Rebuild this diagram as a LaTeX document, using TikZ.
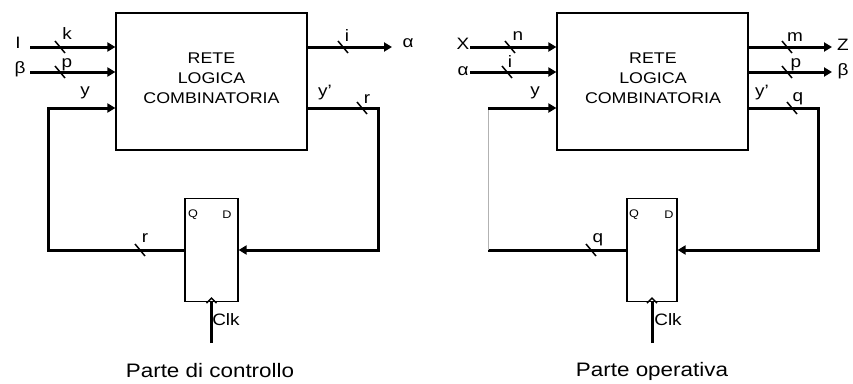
\documentclass[tikz,border=0pt]{standalone}
\usepackage{fontspec}
\setmainfont{Liberation Sans}[FakeStretch=1.15]
\usetikzlibrary{arrows.meta}
\begin{document}
\begin{tikzpicture}[x=1pt,y=-1pt,
  wire/.style={line width=3pt},
  arr/.style={wire,-{Triangle[length=8pt,width=9pt]}},
  box/.style={draw,line width=1.2pt,inner sep=0pt},
  lbl/.style={font=\fontsize{16.5}{18}\selectfont,inner sep=0pt},
  small/.style={font=\fontsize{11}{13}\selectfont,inner sep=0pt},
  title/.style={font=\fontsize{15.5}{20}\selectfont,align=center,inner sep=0pt},
  caption/.style={font=\fontsize{19.5}{22}\selectfont,inner sep=0pt},
  tick/.style={line width=1.5pt},
  faint/.style={line width=0.8pt,draw=black!30}
]
\useasboundingbox (0,0) rectangle (853,383);

% ---------------- Parte di controllo ----------------
\node[box,minimum width=191pt,minimum height=137pt] (rlc1) at (211.5,81.5) {};
\node[title] (t1) at (211.5,78) {RETE\\LOGICA\\COMBINATORIA};
\node[box,minimum width=53pt,minimum height=103pt] (ff1) at (211.5,250) {};
\node[small] (q1) at (193,215) {Q};
\node[small] (d1) at (227,215) {D};

\coordinate (in1) at (30,47);
\coordinate (in2) at (30,72);
\coordinate (ym1) at (48,108);
\coordinate (cl1) at (48,250);
\coordinate (out1) at (392,47);
\coordinate (cr1) at (378,108);
\coordinate (clk1) at (211.5,343);

\draw[arr] (in1) -- (rlc1.west |- in1);
\draw[arr] (in2) -- (rlc1.west |- in2);
\draw[arr] (ff1.west) -- (cl1) -- (ym1) -- (rlc1.west |- ym1);
\draw[arr] (rlc1.east |- out1) -- (out1);
\draw[arr] (rlc1.east |- cr1) -- (cr1) |- (ff1.east);
\draw[wire] (clk1) -- (ff1.south);
\draw[tick] ([shift={(-5,1)}]ff1.south) -- ([shift={(0,-4)}]ff1.south) -- ([shift={(5,1)}]ff1.south);

\draw[tick] (55,41) -- (65,53);
\draw[tick] (55,66) -- (65,78);
\draw[tick] (338,41) -- (348,53);
\draw[tick] (357,102) -- (367,114);
\draw[tick] (135,244) -- (145,256);

\node[lbl] (lI) at (18,43) {I};
\node[lbl] (lb1) at (20,69) {β};
\node[lbl] (lk) at (67,34) {k};
\node[lbl] (lp1) at (67,65) {p};
\node[lbl] (ly1) at (85,93) {y};
\node[lbl] (li1) at (347,36) {i};
\node[lbl] (la1) at (408,43) {α};
\node[lbl] (lyp1) at (325,93) {y’};
\node[lbl] (lr1) at (367,99) {r};
\node[lbl] (lr2) at (145,238) {r};
\node[lbl] (lclk1) at (226,320) {Clk};
\node[caption] (c1) at (210,371) {Parte di controllo};

% ---------------- Parte operativa ----------------
\node[box,minimum width=191pt,minimum height=137pt] (rlc2) at (652.5,81.5) {};
\node[title] (t2) at (653,78) {RETE\\LOGICA\\COMBINATORIA};
\node[box,minimum width=50pt,minimum height=103pt] (ff2) at (652,250) {};
\node[small] (q2) at (634,215) {Q};
\node[small] (d2) at (669,215) {D};

\coordinate (in3) at (470,47);
\coordinate (in4) at (470,72);
\coordinate (ym2) at (488,108);
\coordinate (cl2) at (488,250);
\coordinate (out2) at (832,47);
\coordinate (out3) at (832,72);
\coordinate (cr2) at (818,108);
\coordinate (clk2) at (652,343);

\draw[arr] (in3) -- (rlc2.west |- in3);
\draw[arr] (in4) -- (rlc2.west |- in4);
\draw[wire] (ff2.west) -- (cl2);
\draw[faint] (cl2) -- (ym2);
\draw[arr] (ym2) -- (rlc2.west |- ym2);
\draw[arr] (rlc2.east |- out2) -- (out2);
\draw[arr] (rlc2.east |- out3) -- (out3);
\draw[arr] (rlc2.east |- cr2) -- (cr2) |- (ff2.east);
\draw[wire] (clk2) -- (ff2.south);
\draw[tick] ([shift={(-5,1)}]ff2.south) -- ([shift={(0,-4)}]ff2.south) -- ([shift={(5,1)}]ff2.south);

\draw[tick] (505,41) -- (515,53);
\draw[tick] (502,66) -- (512,78);
\draw[tick] (782,41) -- (792,53);
\draw[tick] (782,66) -- (792,78);
\draw[tick] (787,102) -- (797,114);
\draw[tick] (586,244) -- (596,256);

\node[lbl] (lX) at (463,44) {X};
\node[lbl] (la2) at (463,71.5) {α};
\node[lbl] (ln) at (518,36.5) {n};
\node[lbl] (li2) at (510,62) {i};
\node[lbl] (ly2) at (535,93) {y};
\node[lbl] (lm) at (795,37.5) {m};
\node[lbl] (lp2) at (796,65) {p};
\node[lbl] (lZ) at (843,45) {Z};
\node[lbl] (lb2) at (843,71) {β};
\node[lbl] (lyp2) at (762,93) {y’};
\node[lbl] (lq1) at (798,99) {q};
\node[lbl] (lq2) at (598,240) {q};
\node[lbl] (lclk2) at (668,320) {Clk};
\node[caption] (c2) at (652,371) {Parte operativa};
\end{tikzpicture}
\end{document}
